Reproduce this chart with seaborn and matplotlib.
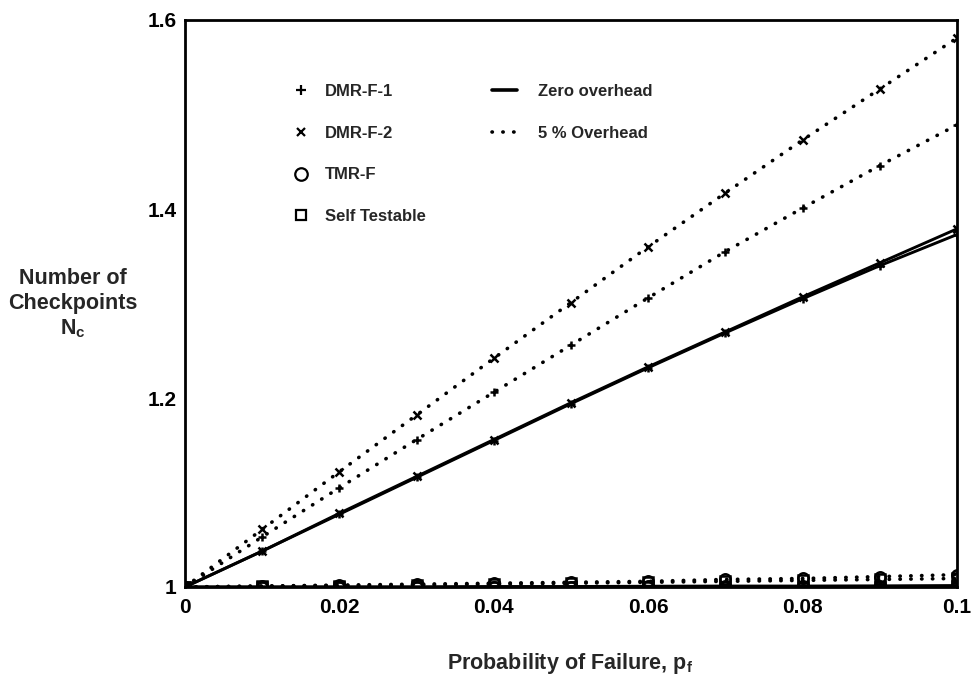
import matplotlib
matplotlib.use("Agg")
import matplotlib.pyplot as plt
from matplotlib.lines import Line2D
import numpy as np
import pandas as pd
import seaborn as sns

# ---------------- data ----------------
p_f = [0.0, 0.01, 0.02, 0.03, 0.04, 0.05, 0.06, 0.07, 0.08, 0.09, 0.10]

dmr1_zero = [1.0, 1.038, 1.077, 1.116, 1.155, 1.194, 1.232, 1.269, 1.305, 1.340, 1.373]
dmr2_zero = [1.0, 1.038, 1.078, 1.117, 1.156, 1.195, 1.233, 1.270, 1.307, 1.343, 1.379]
dmr1_5pc = [1.0, 1.053, 1.105, 1.156, 1.206, 1.256, 1.306, 1.355, 1.401, 1.446, 1.489]
dmr2_5pc = [1.0, 1.061, 1.122, 1.182, 1.242, 1.301, 1.360, 1.417, 1.473, 1.527, 1.581]
tmr_zero = [1.0, 1.0, 1.0, 1.0, 1.0005, 1.0005, 1.0008, 1.001, 1.001, 1.0012, 1.0015]
tmr_5pc = [1.0, 1.001, 1.002, 1.003, 1.004, 1.005, 1.006, 1.008, 1.009, 1.011, 1.013]
self_zero = [1.0, 1.0, 1.0, 1.0, 1.0, 1.0, 1.0, 1.0005, 1.0005, 1.0005, 1.0008]
self_5pc = [1.0, 1.001, 1.0015, 1.002, 1.003, 1.004, 1.005, 1.006, 1.007, 1.008, 1.009]

x_ticks = [0, 0.02, 0.04, 0.06, 0.08, 0.1]
x_ticklabels = ["0", "0.02", "0.04", "0.06", "0.08", "0.1"]
y_ticks = [1.0, 1.2, 1.4, 1.6]
y_ticklabels = ["1", "1.2", "1.4", "1.6"]

scheme_labels = ["DMR-F-1", "DMR-F-2", "TMR-F", "Self Testable"]
overhead_labels = ["Zero overhead", "5 % Overhead"]

# ---------------- style ----------------
sns.set_style("white")
plt.rcParams["font.family"] = ["Liberation Sans", "DejaVu Sans"]
plt.rcParams["font.weight"] = "bold"
plt.rcParams["mathtext.fontset"] = "custom"
plt.rcParams["mathtext.rm"] = "Liberation Sans:bold"
plt.rcParams["mathtext.it"] = "Liberation Sans:bold"
plt.rcParams["mathtext.bf"] = "Liberation Sans:bold"

W, H = 972, 678
fig = plt.figure(figsize=(W / 100, H / 100), dpi=100)
ax = fig.add_axes([185 / W, 1 - 587 / H, (957 - 185) / W, (587 - 20) / H])

DOT = (0, (0.1, 2.9))
markers = {"DMR-F-1": "+", "DMR-F-2": "x", "TMR-F": "o", "Self Testable": "s"}
series = [
    ("DMR-F-1", "zero", dmr1_zero), ("DMR-F-2", "zero", dmr2_zero),
    ("TMR-F", "zero", tmr_zero), ("Self Testable", "zero", self_zero),
    ("DMR-F-1", "5pc", dmr1_5pc), ("DMR-F-2", "5pc", dmr2_5pc),
    ("TMR-F", "5pc", tmr_5pc), ("Self Testable", "5pc", self_5pc),
]

for name, ovh, vals in series:
    df = pd.DataFrame({"p": p_f, "n": vals})
    m = markers[name]
    open_m = m in ("o", "s")
    ms = {"+": 6, "x": 6, "o": 7.5, "s": 6.5}[m]
    kw = dict(color="black", marker=m, markersize=ms, markeredgewidth=1.8,
              markeredgecolor="black",
              markerfacecolor="none" if open_m else "black")
    if ovh == "zero":
        kw.update(linewidth=2.1, linestyle="-")
    else:
        kw.update(linewidth=2.6, linestyle=DOT, dash_capstyle="round")
    sns.lineplot(data=df, x="p", y="n", ax=ax, legend=False, **kw)

ax.set_xlim(0, 0.1)
ax.set_ylim(1.0, 1.6)
ax.set_xticks(x_ticks)
ax.set_xticklabels(x_ticklabels)
ax.set_yticks(y_ticks)
ax.set_yticklabels(y_ticklabels)
ax.tick_params(axis="both", direction="in", width=2.0, labelsize=15, colors="black")
ax.tick_params(axis="x", length=12, pad=8)
ax.tick_params(axis="y", length=14, pad=6)
for lab in ax.get_xticklabels() + ax.get_yticklabels():
    lab.set_fontweight("bold")
for s in ax.spines.values():
    s.set_linewidth(2.0)
    s.set_color("black")
    s.set_visible(True)
ax.set_xlabel("")
ax.set_ylabel("")

fig.text(570 / W, 1 - 664 / H, r"Probability of Failure, p$_f$", ha="center", va="center",
         fontsize=15.5, fontweight="bold")
fig.text(73 / W, 1 - 304 / H, "Number of\nCheckpoints\nN$_c$", ha="center", va="center",
         fontsize=15.5, fontweight="bold", linespacing=1.25)

# ---------------- legends ----------------
h1 = [Line2D([], [], linestyle="none", marker="+", color="black", markersize=7, markeredgewidth=1.6),
      Line2D([], [], linestyle="none", marker="x", color="black", markersize=6, markeredgewidth=1.6),
      Line2D([], [], linestyle="none", marker="o", color="black", markerfacecolor="white",
             markersize=9, markeredgewidth=1.6),
      Line2D([], [], linestyle="none", marker="s", color="black", markerfacecolor="white",
             markersize=7, markeredgewidth=1.6)]
leg1 = ax.legend(h1, scheme_labels, loc="upper left", bbox_to_anchor=(288 / W, 1 - 84 / H),
                 bbox_transform=fig.transFigure, frameon=False,
                 handlelength=1.5, handletextpad=0.7, labelspacing=1.6,
                 borderpad=0, borderaxespad=0, prop={"weight": "bold", "size": 12})
ax.add_artist(leg1)
h2 = [Line2D([], [], color="black", linewidth=2.6),
      Line2D([], [], color="black", linewidth=2.6, linestyle=DOT, dash_capstyle="round")]
ax.legend(h2, overhead_labels, loc="upper left", bbox_to_anchor=(492 / W, 1 - 84 / H),
          bbox_transform=fig.transFigure, frameon=False,
          handlelength=1.5, handletextpad=1.25, labelspacing=1.6,
          borderpad=0, borderaxespad=0, prop={"weight": "bold", "size": 12})

fig.savefig("out.png", dpi=100)
